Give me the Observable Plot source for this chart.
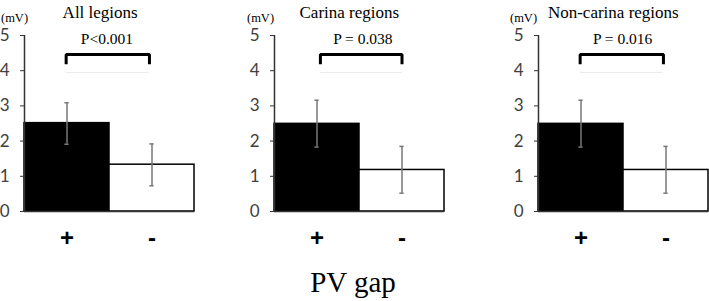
<!DOCTYPE html>
<html>
<head>
<meta charset="utf-8">
<script src="https://cdn.jsdelivr.net/npm/d3@7"></script>
<script src="https://cdn.jsdelivr.net/npm/@observablehq/plot@0.6"></script>
<style>
  html, body { margin: 0; padding: 0; background: #fff; }
  #wrap { position: relative; width: 709px; height: 301px; background: #fff; overflow: hidden; }
  .panel { position: absolute; top: 0; }
  #xtitle { position: absolute; top: 268px; left: 353px; transform: translateX(-50%);
            font-family: "Liberation Serif", "Times New Roman", serif; font-size: 29px; line-height: 1; color: #000; white-space: nowrap; }
</style>
</head>
<body>
<div id="wrap"><div id="xtitle"></div></div>
<script>
// ---- data ----
const categories = ["+", "-"];
const panelTitles = ["All legions", "Carina regions", "Non-carina regions"];
const pLabels = ["P<0.001", "P = 0.038", "P = 0.016"];
const means = [[2.51, 1.33], [2.49, 1.18], [2.49, 1.18]];
const errLow = [[1.91, 0.73], [1.83, 0.52], [1.83, 0.52]];
const errHigh = [[3.09, 1.92], [3.16, 1.85], [3.16, 1.85]];
const yTicks = [0, 1, 2, 3, 4, 5];
const unitLabel = "(mV)";
const xTitle = "PV gap";

// ---- layout (not data) ----
const layout = [
  {left: 0,   width: 200, marginLeft: 24, unitDx: -10, bx: [0.49, 1.47], px: 0.97, tx: 0.89},
  {left: 240, width: 210, marginLeft: 34, unitDx: -14, bx: [0.54, 1.50], px: 1.04, tx: 0.88},
  {left: 500, width: 209, marginLeft: 38, unitDx: -15, bx: [0.49, 1.47], px: 0.99, tx: 0.88}
];
const bracketLow = 4.18, bracketHigh = 4.46, shadowY = 3.95, pY = 4.91;

const serif = "Liberation Serif, Times New Roman, serif";
const wrap = document.getElementById("wrap");
document.getElementById("xtitle").textContent = xTitle;

panelTitles.forEach((title, p) => {
  const L = layout[p];
  const rows = categories.map((c, i) => ({
    cat: c, i, x1: i, x2: i + 1, xc: i + 0.5,
    mean: means[p][i], lo: errLow[p][i], hi: errHigh[p][i]
  }));
  const bracket = [
    {x: L.bx[0], y: bracketLow}, {x: L.bx[0], y: bracketHigh},
    {x: L.bx[1], y: bracketHigh}, {x: L.bx[1], y: bracketLow}
  ];
  const chart = Plot.plot({
    width: L.width,
    height: 250,
    marginLeft: L.marginLeft,
    marginRight: L.width - L.marginLeft - 170,
    marginTop: 35,
    marginBottom: 39,
    style: {background: "transparent", overflow: "visible"},
    x: {domain: [0, categories.length], axis: null},
    y: {domain: [0, 5], axis: null},
    marks: [
      Plot.rectY(rows, {x1: "x1", x2: "x2", y: "mean",
        fill: d => d.i === 0 ? "#000" : "#fff", stroke: "#000", strokeWidth: 1.5}),
      Plot.ruleX(rows, {x: "xc", y1: "lo", y2: "hi", stroke: "#777", strokeWidth: 1.5}),
      Plot.ruleY(rows, {y: "hi", x1: d => d.xc - 0.025, x2: d => d.xc + 0.025, stroke: "#777", strokeWidth: 1.5}),
      Plot.ruleY(rows, {y: "lo", x1: d => d.xc - 0.025, x2: d => d.xc + 0.025, stroke: "#777", strokeWidth: 1.5}),
      Plot.ruleY([0], {stroke: "#333", strokeWidth: 1.5}),
      Plot.ruleX([0], {stroke: "#333", strokeWidth: 1.5}),
      Plot.axisY({ticks: yTicks, tickSize: 4, tickPadding: 11, tickFormat: d => String(d),
        fontSize: 17, fontFamily: "Lato, Open Sans, sans-serif", fill: "#404040", stroke: "#333"}),
      Plot.axisX({ticks: rows.map(d => d.xc), tickFormat: v => categories[Math.floor(v)],
        tickSize: 0, tickPadding: 17, fontSize: 24, fontWeight: "bold",
        fontFamily: "Liberation Sans, Arial, sans-serif", fill: "#000"}),
      Plot.ruleY([shadowY], {x1: L.bx[0], x2: L.bx[1], stroke: "#ececec", strokeWidth: 1}),
      Plot.line(bracket, {x: "x", y: "y", stroke: "#000", strokeWidth: 3, strokeLinejoin: "miter", strokeLinecap: "butt"}),
      Plot.text([pLabels[p]], {x: L.px, y: pY, text: d => d, fontSize: 15.5, fontFamily: serif, fill: "#000"}),
      Plot.text([title], {x: L.tx, frameAnchor: "top", lineAnchor: "middle", dy: -23, text: d => d,
        fontSize: 17, fontFamily: serif, fill: "#000"}),
      Plot.text([unitLabel], {frameAnchor: "top-left", lineAnchor: "middle", dx: L.unitDx, dy: -18, text: d => d,
        textAnchor: "middle", fontSize: 12.5, fontFamily: serif, fill: "#000"})
    ]
  });
  chart.classList.add("panel");
  chart.style.left = L.left + "px";
  wrap.appendChild(chart);
});
</script>
</body>
</html>
